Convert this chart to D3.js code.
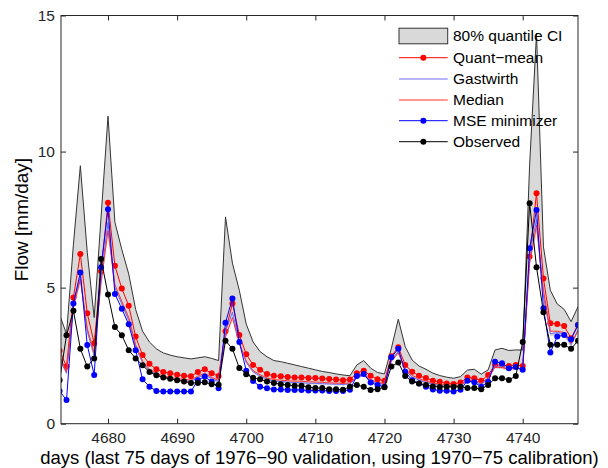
<!DOCTYPE html>
<html>
<head>
<meta charset="utf-8">
<script src="https://cdn.jsdelivr.net/npm/d3@7"></script>
<style>
  body { margin: 0; background: #fff; }
  svg text { font-family: "Liberation Sans", Arial, sans-serif; fill: #000; }
</style>
</head>
<body>
<div id="chart"></div>
<script>
// days 4673..4748 (first one is only partly visible at the left edge)
const firstDay = 4673;
const ciUpper = [4.0, 3.3, 6.6, 9.48, 6.3, 3.9, 7.6, 11.3, 7.4, 6.4, 5.5, 4.2, 3.4, 3.0, 2.75, 2.6, 2.52, 2.46, 2.42, 2.38,
  2.42, 2.46, 2.4, 2.32, 7.6, 5.9, 4.9, 3.66, 3.0, 2.65, 2.46, 2.32, 2.28, 2.22, 2.16, 2.1, 2.04, 1.98, 1.92, 1.88,
  1.83, 1.79, 1.76, 2.16, 2.32, 2.04, 1.88, 1.83, 2.77, 3.84, 2.83, 2.34, 2.12, 2.0, 1.86, 1.77, 1.71, 1.67, 1.73, 1.97,
  2.0, 1.82, 1.98, 2.71, 2.77, 2.69, 2.71, 2.71, 9.5, 14.35, 6.5, 4.9, 4.4, 4.2, 3.75, 4.3];
const ciLower = [2.3, 1.8, 4.2, 5.1, 3.3, 2.4, 5.0, 6.9, 4.9, 4.3, 3.7, 2.75, 2.2, 1.9, 1.75, 1.66, 1.6, 1.57, 1.53, 1.5,
  1.66, 1.75, 1.6, 1.5, 3.1, 3.8, 2.9, 2.2, 1.85, 1.7, 1.58, 1.52, 1.5, 1.48, 1.46, 1.45, 1.44, 1.43, 1.42, 1.41,
  1.4, 1.39, 1.42, 1.65, 1.73, 1.53, 1.44, 1.4, 2.25, 2.55, 1.9, 1.67, 1.55, 1.47, 1.4, 1.35, 1.32, 1.3, 1.34, 1.53,
  1.5, 1.4, 1.6, 2.02, 2.0, 1.95, 1.98, 1.95, 5.8, 7.0, 4.5, 3.2, 3.25, 3.2, 2.8, 3.35];
const quantMean = [2.68, 2.1, 4.64, 6.24, 4.06, 2.95, 5.6, 8.12, 5.8, 4.97, 4.33, 3.2, 2.52, 2.2, 2.0, 1.9, 1.85, 1.8, 1.76, 1.74,
  1.9, 2.0, 1.85, 1.75, 3.4, 4.42, 3.26, 2.55, 2.16, 1.98, 1.83, 1.76, 1.74, 1.72, 1.7, 1.7, 1.68, 1.68, 1.66, 1.64,
  1.62, 1.6, 1.62, 1.85, 1.95, 1.76, 1.63, 1.58, 2.48, 2.81, 2.16, 1.91, 1.76, 1.68, 1.58, 1.54, 1.48, 1.46, 1.51, 1.7,
  1.67, 1.58, 1.79, 2.16, 2.16, 2.12, 2.16, 2.12, 6.14, 8.47, 5.34, 3.69, 3.66, 3.59, 3.14, 3.63];
const gastwirth = [2.4, 1.85, 4.4, 5.4, 3.4, 2.5, 5.4, 7.4, 5.0, 4.4, 3.8, 2.8, 2.25, 1.95, 1.8, 1.7, 1.65, 1.62, 1.58, 1.55,
  1.7, 1.8, 1.65, 1.55, 3.4, 4.1, 3.0, 2.25, 1.9, 1.75, 1.63, 1.57, 1.55, 1.53, 1.51, 1.5, 1.49, 1.48, 1.47, 1.46,
  1.45, 1.44, 1.47, 1.7, 1.78, 1.58, 1.49, 1.45, 2.35, 2.65, 1.95, 1.72, 1.6, 1.52, 1.45, 1.4, 1.37, 1.35, 1.39, 1.58,
  1.55, 1.45, 1.65, 2.12, 2.1, 2.0, 2.06, 2.0, 6.2, 7.5, 4.7, 3.3, 3.35, 3.3, 2.9, 3.45];
const median = [2.5, 1.9, 4.3, 5.3, 3.5, 2.6, 5.2, 7.1, 5.1, 4.5, 3.9, 2.9, 2.3, 2.0, 1.85, 1.75, 1.7, 1.66, 1.63, 1.6,
  1.75, 1.85, 1.7, 1.6, 3.2, 3.9, 2.95, 2.3, 1.95, 1.8, 1.68, 1.62, 1.6, 1.58, 1.56, 1.56, 1.54, 1.53, 1.52, 1.5,
  1.49, 1.48, 1.5, 1.72, 1.8, 1.62, 1.52, 1.48, 2.3, 2.6, 2.0, 1.78, 1.65, 1.57, 1.5, 1.45, 1.42, 1.4, 1.43, 1.6,
  1.58, 1.5, 1.68, 2.08, 2.06, 2.0, 2.04, 2.0, 5.9, 7.3, 4.9, 3.4, 3.4, 3.35, 2.95, 3.4];
const mseMin = [1.2, 0.87, 4.42, 5.56, 2.89, 1.79, 5.75, 7.88, 4.77, 4.22, 3.65, 2.7, 1.63, 1.36, 1.2, 1.18, 1.18, 1.18, 1.18, 1.18,
  1.6, 1.73, 1.54, 1.3, 3.71, 4.6, 3.0, 1.95, 1.57, 1.36, 1.3, 1.26, 1.26, 1.24, 1.24, 1.24, 1.22, 1.22, 1.22, 1.2,
  1.2, 1.2, 1.25, 1.75, 1.83, 1.51, 1.42, 1.36, 2.44, 2.75, 1.91, 1.6, 1.48, 1.36, 1.26, 1.21, 1.21, 1.18, 1.25, 1.58,
  1.52, 1.36, 1.54, 2.28, 2.22, 2.04, 2.08, 1.98, 6.45, 7.85, 4.24, 2.62, 3.2, 3.26, 3.1, 3.63];
const observed = [1.6, 3.25, 4.15, 2.75, 2.1, 2.4, 6.05, 4.75, 3.55, 3.25, 2.7, 2.4, 2.15, 1.9, 1.78, 1.7, 1.65, 1.6, 1.55, 1.5,
  1.5, 1.52, 1.45, 1.43, 3.05, 2.75, 2.05, 1.82, 1.69, 1.63, 1.55, 1.5, 1.45, 1.42, 1.39, 1.39, 1.34, 1.31, 1.31, 1.27,
  1.27, 1.25, 1.36, 1.42, 1.36, 1.24, 1.27, 1.34, 2.1, 2.25, 1.75, 1.55, 1.48, 1.42, 1.37, 1.35, 1.36, 1.36, 1.36, 1.31,
  1.31, 1.27, 1.42, 1.67, 1.67, 1.61, 1.75, 3.0, 8.1, 5.75, 4.1, 2.9, 2.9, 2.9, 2.75, 3.05];
const xTicks = [4680, 4690, 4700, 4710, 4720, 4730, 4740];
const yTicks = [0, 5, 10, 15];

const W = 608, H = 468;
const mLeft = 61, mRight = 578, mTop = 15.5, mBottom = 423.7;
const axisColor = '#262626';

const days = quantMean.map((d, i) => firstDay + i);

const x = d3.scaleLinear().domain([4673.2, 4748]).range([mLeft, mRight]);
const y = d3.scaleLinear().domain([0, 15]).range([mBottom, mTop]);

const svg = d3.select('#chart').append('svg')
  .attr('width', W).attr('height', H);

svg.append('defs').append('clipPath').attr('id', 'plot-clip')
  .append('rect').attr('x', mLeft).attr('y', mTop)
  .attr('width', mRight - mLeft).attr('height', mBottom - mTop);

const plot = svg.append('g').attr('clip-path', 'url(#plot-clip)');

// quantile band
const area = d3.area()
  .x((d, i) => x(days[i]))
  .y0((d, i) => y(ciLower[i]))
  .y1(d => y(d));
plot.append('path').datum(ciUpper)
  .attr('d', area)
  .attr('fill', '#d9d9d9');
plot.append('path').datum(ciUpper)
  .attr('d', d3.line().x((d, i) => x(days[i])).y(d => y(d)))
  .attr('fill', 'none').attr('stroke', '#333').attr('stroke-width', 1);

const series = [
  { name: 'Quant\u2212mean', values: quantMean, color: '#ff0000', dots: true },
  { name: 'Gastwirth', values: gastwirth, color: '#6a6aff', dots: false },
  { name: 'Median', values: median, color: '#ff3030', dots: false },
  { name: 'MSE minimizer', values: mseMin, color: '#0000ff', dots: true },
  { name: 'Observed', values: observed, color: '#000000', dots: true }
];

const line = d3.line().x((d, i) => x(days[i])).y(d => y(d));

series.forEach(s => {
  plot.append('path').datum(s.values)
    .attr('d', line)
    .attr('fill', 'none')
    .attr('stroke', s.color)
    .attr('stroke-width', 1);
  if (s.dots) {
    plot.selectAll(null).data(s.values).enter()
      .append('circle')
      .attr('cx', (d, i) => x(days[i]))
      .attr('cy', d => y(d))
      .attr('r', 3)
      .attr('fill', s.color);
  }
});

// axes with inward ticks on all four sides
const xAxis = d3.axisBottom(x).tickValues(xTicks).tickFormat(d3.format('d'))
  .tickSizeInner(-5).tickSizeOuter(0).tickPadding(8);
const yAxis = d3.axisLeft(y).tickValues(yTicks).tickSizeInner(-5).tickSizeOuter(0).tickPadding(6);

svg.append('g').attr('transform', `translate(0,${mBottom})`).call(xAxis);
svg.append('g').attr('transform', `translate(${mLeft},0)`).call(yAxis);
svg.append('g').attr('transform', `translate(0,${mTop})`)
  .call(d3.axisTop(x).tickValues(xTicks).tickSizeInner(-5).tickSizeOuter(0).tickFormat(''));
svg.append('g').attr('transform', `translate(${mRight},0)`)
  .call(d3.axisRight(y).tickValues(yTicks).tickSizeInner(-5).tickSizeOuter(0).tickFormat(''));

svg.selectAll('.domain').remove();
svg.selectAll('.tick line').attr('stroke', axisColor);
svg.selectAll('.tick text').attr('font-size', 15.5).style('fill', axisColor);

svg.append('rect')
  .attr('x', mLeft).attr('y', mTop)
  .attr('width', mRight - mLeft).attr('height', mBottom - mTop)
  .attr('fill', 'none').attr('stroke', axisColor).attr('stroke-width', 1);

svg.append('text')
  .attr('x', (mLeft + mRight) / 2).attr('y', 463.5)
  .attr('text-anchor', 'middle').attr('font-size', 18.5)
  .text('days (last 75 days of 1976\u221290 validation, using 1970\u221275 calibration)');

svg.append('text')
  .attr('transform', `translate(28,${(mTop + mBottom) / 2}) rotate(-90)`)
  .attr('text-anchor', 'middle').attr('font-size', 19)
  .text('Flow [mm/day]');

// legend
const leg = svg.append('g');
const legX0 = 399, legX1 = 447.7, legTextX = 453;
const rowY = [36, 57.7, 79, 100, 120.7, 141.7];
leg.append('rect')
  .attr('x', legX0).attr('y', rowY[0] - 7.8)
  .attr('width', legX1 - legX0).attr('height', 15.6)
  .attr('fill', '#d9d9d9').attr('stroke', '#333').attr('stroke-width', 1);
leg.append('text').attr('x', legTextX).attr('y', rowY[0]).attr('dy', '0.35em')
  .attr('font-size', 15.5).text('80% quantile CI');
series.forEach((s, i) => {
  const yy = rowY[i + 1];
  leg.append('line').attr('x1', legX0).attr('x2', legX1)
    .attr('y1', yy).attr('y2', yy)
    .attr('stroke', s.color).attr('stroke-width', 1);
  if (s.dots) {
    leg.append('circle').attr('cx', (legX0 + legX1) / 2).attr('cy', yy)
      .attr('r', 3).attr('fill', s.color);
  }
  leg.append('text').attr('x', legTextX).attr('y', yy).attr('dy', '0.35em')
    .attr('font-size', 15.5).text(s.name);
});
</script>
</body>
</html>
